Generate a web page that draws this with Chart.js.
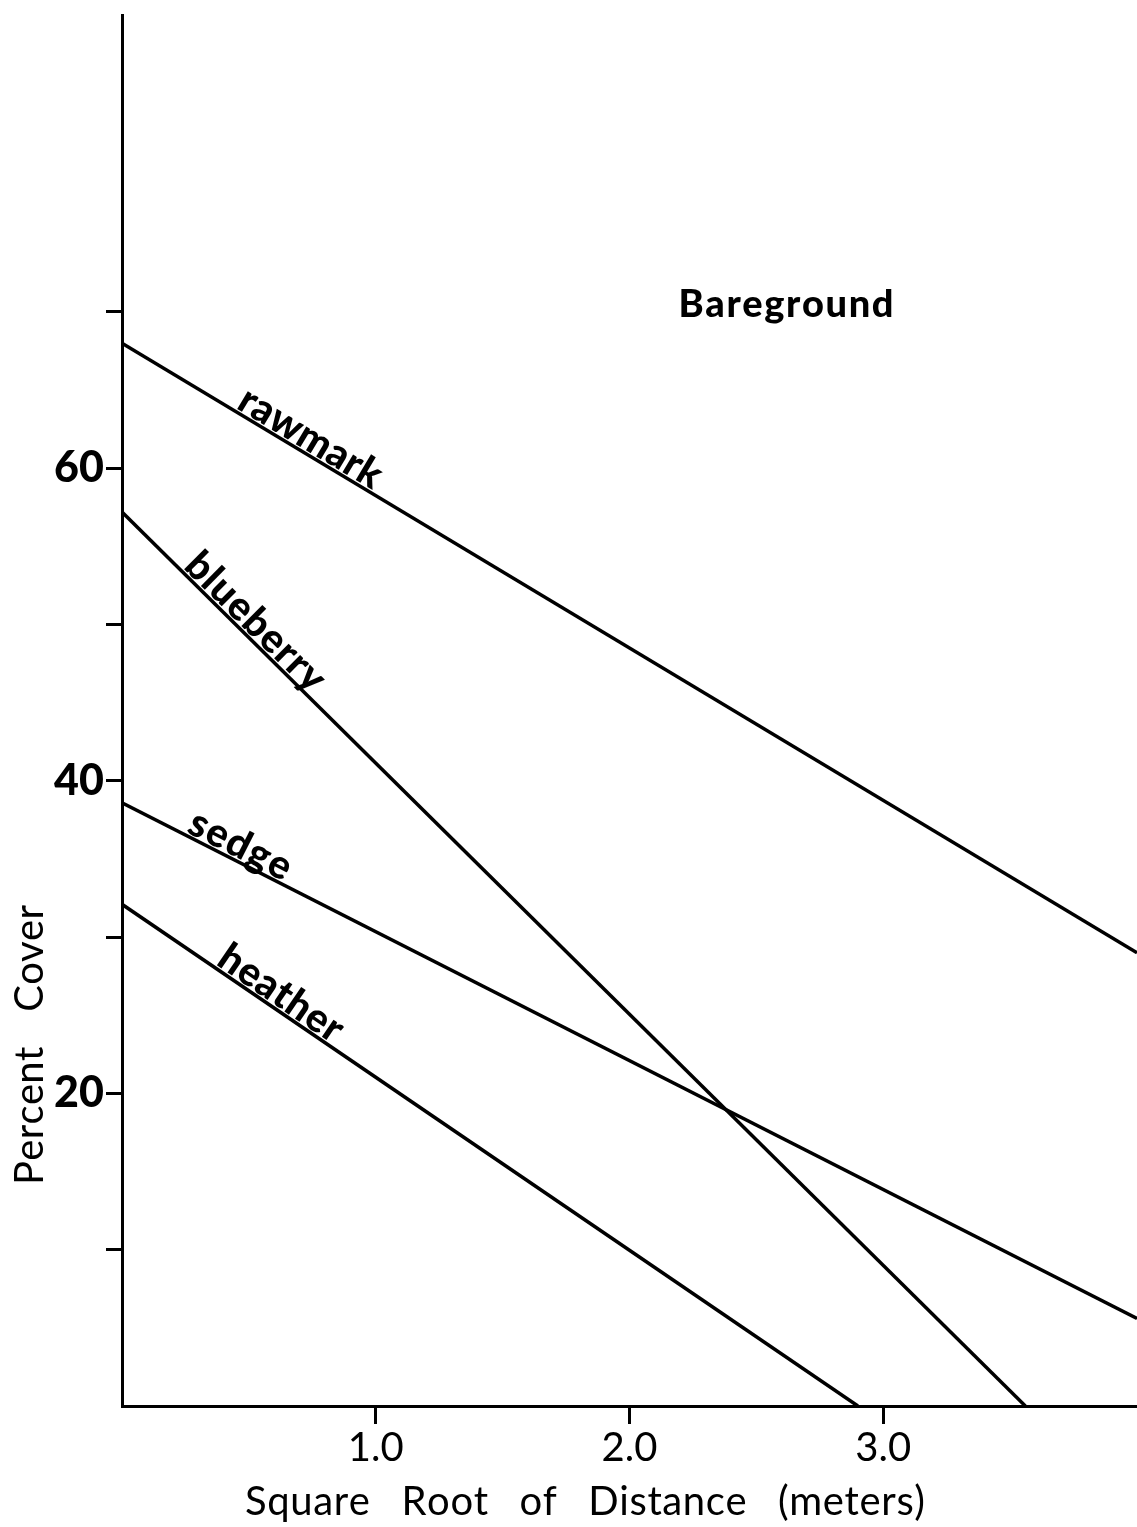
<!DOCTYPE html>
<html>
<head>
<meta charset="utf-8">
<script src="https://cdn.jsdelivr.net/npm/chart.js@4.4.1/dist/chart.umd.min.js"></script>
<style>
html,body{margin:0;padding:0;background:#ffffff;}
#wrap{position:relative;width:1137px;height:1527px;}
</style>
</head>
<body>
<div id="wrap"><canvas id="c"></canvas></div>
<script>
// ---- data ----
const seriesNames = ['rawmark', 'blueberry', 'sedge', 'heather'];
const rawmarkX   = [0, 4.0];
const rawmarkY   = [68.0, 29.0];
const blueberryX = [0, 3.56];
const blueberryY = [57.2, 0];
const sedgeX     = [0, 4.0];
const sedgeY     = [38.6, 5.6];
const heatherX   = [0, 2.90];
const heatherY   = [32.1, 0];

const yTickValues = [10, 20, 30, 40, 50, 60, 70];
const yTickLabels = ['', '20', '', '40', '', '60', ''];
const xTickValues = [1, 2, 3];
const xTickLabels = ['1.0', '2.0', '3.0'];
const xTitle = 'Square Root of Distance (meters)';
const yTitle = 'Percent Cover';
const noteText = 'Bareground';

// ---- build datasets ----
const seriesX = [rawmarkX, blueberryX, sedgeX, heatherX];
const seriesY = [rawmarkY, blueberryY, sedgeY, heatherY];
const datasets = seriesNames.map((name, i) => ({
  label: name,
  data: seriesX[i].map((x, j) => ({ x: x, y: seriesY[i][j] })),
  borderColor: '#000',
  borderWidth: 3.5,
  pointRadius: 0,
  tension: 0,
  fill: false
}));

// label placement along each line (start position in x units, target text length in px)
const labelStyle = {
  rawmark:   { startX: 0.44, length: 160 },
  blueberry: { startX: 0.23, length: 180 },
  sedge:     { startX: 0.245, length: 110 },
  heather:   { startX: 0.36, length: 142 }
};

function drawSpaced(ctx, text, x, y, targetWidth, wordExtra) {
  const chars = Array.from(text);
  const widths = chars.map(c => ctx.measureText(c).width);
  const natural = widths.reduce((a, b) => a + b, 0);
  const spaces = chars.filter(c => c === ' ').length;
  const gaps = chars.length - 1;
  const extra = targetWidth - natural - spaces * wordExtra;
  const letterExtra = gaps > 0 ? extra / gaps : 0;
  let cx = x;
  ctx.textAlign = 'left';
  chars.forEach((c, i) => {
    ctx.fillText(c, cx, y);
    cx += widths[i] + letterExtra + (c === ' ' ? wordExtra : 0);
  });
}

const textPlugin = {
  id: 'textPlugin',
  afterDraw(chart) {
    const ctx = chart.ctx;
    const xs = chart.scales.x, ys = chart.scales.y;
    ctx.save();
    ctx.fillStyle = '#000';
    ctx.textBaseline = 'alphabetic';

    // line labels
    ctx.font = '900 40px Lato';
    seriesNames.forEach((name, i) => {
      const sx = seriesX[i], sy = seriesY[i];
      const p0x = xs.getPixelForValue(sx[0]), p0y = ys.getPixelForValue(sy[0]);
      const p1x = xs.getPixelForValue(sx[1]), p1y = ys.getPixelForValue(sy[1]);
      const ang = Math.atan2(p1y - p0y, p1x - p0x);
      const st = labelStyle[name];
      const t = (st.startX - sx[0]) / (sx[1] - sx[0]);
      const px = p0x + t * (p1x - p0x);
      const py = p0y + t * (p1y - p0y);
      ctx.save();
      ctx.translate(px, py);
      ctx.rotate(ang);
      drawSpaced(ctx, name, 0, -3, st.length, 0);
      ctx.restore();
    });

    // Bareground note
    ctx.font = '900 38px Lato';
    const bx = xs.getPixelForValue(2.615), by = ys.getPixelForValue(69.7);
    drawSpaced(ctx, noteText, bx - 107, by, 215, 0);

    // x axis title
    ctx.font = '40px Lato';
    drawSpaced(ctx, xTitle, 245, 1515, 680, 20);

    // y axis title
    ctx.save();
    ctx.translate(43, 1045);
    ctx.rotate(-Math.PI / 2);
    ctx.font = '40px Lato';
    drawSpaced(ctx, yTitle, -140, 0, 280, 24);
    ctx.restore();

    ctx.restore();
  }
};

function build() {
  new Chart(document.getElementById('c'), {
    type: 'line',
    data: { datasets: datasets },
    options: {
      responsive: true,
      maintainAspectRatio: false,
      animation: false,
      layout: { padding: { top: 15, left: 0, right: 0, bottom: 0 } },
      plugins: { legend: { display: false }, tooltip: { enabled: false } },
      scales: {
        x: {
          type: 'linear',
          min: 0,
          max: 4.0,
          afterBuildTicks: (scale) => { scale.ticks = xTickValues.map(v => ({ value: v })); },
          afterFit: (scale) => { scale.height = 121; scale.paddingLeft = 0; scale.paddingRight = 0; },
          ticks: {
            autoSkip: false,
            maxRotation: 0,
            padding: 0,
            color: '#000',
            font: { family: 'Lato', size: 40 },
            callback: (v) => { const i = xTickValues.indexOf(v); return i >= 0 ? xTickLabels[i] : ''; }
          },
          grid: { drawOnChartArea: false, drawTicks: true, tickLength: 18, color: '#000', lineWidth: 3 },
          border: { display: true, color: '#000', width: 3 }
        },
        y: {
          type: 'linear',
          min: 0,
          max: 89,
          afterBuildTicks: (scale) => { scale.ticks = yTickValues.map(v => ({ value: v })); },
          afterFit: (scale) => { scale.width = 122; scale.paddingTop = 0; scale.paddingBottom = 0; },
          ticks: {
            autoSkip: false,
            padding: 2,
            color: '#000',
            font: { family: 'Lato', size: 43, weight: '900' },
            callback: (v) => { const i = yTickValues.indexOf(v); return i >= 0 ? yTickLabels[i] : ''; }
          },
          grid: { drawOnChartArea: false, drawTicks: true, tickLength: 16, color: '#000', lineWidth: 3 },
          border: { display: true, color: '#000', width: 3 }
        }
      }
    },
    plugins: [textPlugin]
  });
}

if (document.fonts && document.fonts.load) {
  Promise.all([
    document.fonts.load('40px Lato'),
    document.fonts.load('bold 40px Lato'),
    document.fonts.load('900 40px Lato')
  ]).then(build, build);
} else {
  build();
}
</script>
</body>
</html>
